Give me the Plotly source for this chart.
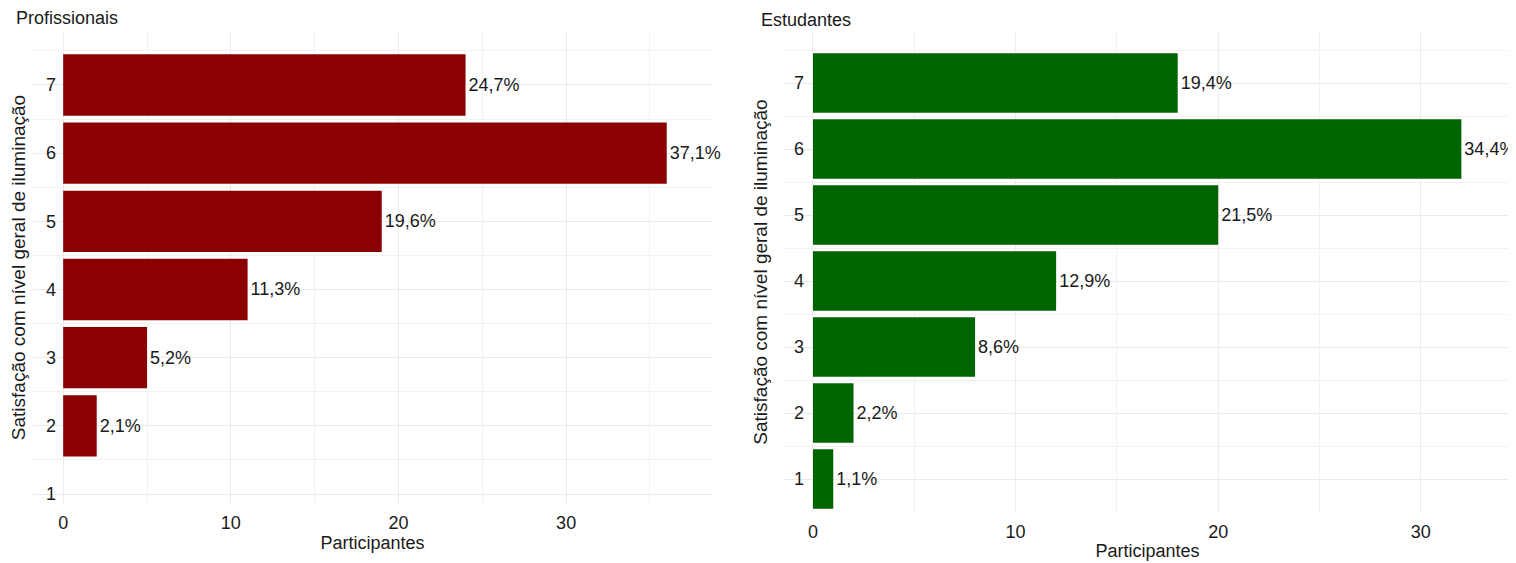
import plotly.graph_objects as go

# ---- data ----
levels = [1, 2, 3, 4, 5, 6, 7]
prof_counts = [0, 2, 5, 11, 19, 36, 24]
prof_labels = ["", "2,1%", "5,2%", "11,3%", "19,6%", "37,1%", "24,7%"]
est_counts = [1, 2, 8, 12, 20, 32, 18]
est_labels = ["1,1%", "2,2%", "8,6%", "12,9%", "21,5%", "34,4%", "19,4%"]
x_ticks = [0, 10, 20, 30]

# page body has an 8px margin; size figure to fill the rest of the window
OFF = 8
W, H = 1516 - OFF, 563 - OFF
def fx(px):
    return (px - OFF) / W
def fy(py):
    return 1 - (py - OFF) / H

FONT = "Liberation Sans, Arial, sans-serif"
GRID = "#EBEBEB"
TXT = "#1a1a1a"
FS = 18

fig = go.Figure()
fig.add_trace(go.Bar(
    x=prof_counts, y=levels, orientation="h", width=0.9,
    marker=dict(color="#8B0000", line=dict(width=0)),
    text=prof_labels, textposition="outside", cliponaxis=False,
    textfont=dict(size=FS, color=TXT, family=FONT),
    xaxis="x", yaxis="y", showlegend=False, hoverinfo="x+y"))
fig.add_trace(go.Bar(
    x=est_counts, y=levels, orientation="h", width=0.9,
    marker=dict(color="#006400", line=dict(width=0)),
    text=est_labels, textposition="outside", cliponaxis=False,
    textfont=dict(size=FS, color=TXT, family=FONT),
    xaxis="x2", yaxis="y2", showlegend=False, hoverinfo="x+y"))

def xax(domain, rng, anchor, standoff):
    return dict(domain=domain, range=rng, anchor=anchor, automargin=False,
                tickvals=x_ticks, showgrid=True, gridcolor=GRID, gridwidth=1,
                minor=dict(dtick=5, tick0=0, showgrid=True, gridcolor="#F2F2F2", gridwidth=1),
                zeroline=False, showline=False, ticks="", ticklabelstandoff=7,
                tickfont=dict(size=FS, color=TXT, family=FONT),
                title=dict(text="Participantes", font=dict(size=FS, color=TXT, family=FONT),
                           standoff=standoff))

def yax(domain, rng, anchor, standoff_lbl, standoff_title):
    return dict(domain=domain, range=rng, anchor=anchor, automargin=False,
                tickvals=levels, showgrid=True, gridcolor=GRID, gridwidth=1,
                minor=dict(dtick=1, tick0=0.5, showgrid=True, gridcolor="#F2F2F2", gridwidth=1),
                zeroline=False, showline=False, ticks="",
                ticklabelposition="inside", ticklabelstandoff=standoff_lbl,
                ticklabeloverflow="allow",
                tickfont=dict(size=FS, color=TXT, family=FONT),
                title=dict(text="Satisfação com nível geral de iluminação",
                           font=dict(size=19, color=TXT, family=FONT),
                           standoff=standoff_title))

fig.update_layout(
    width=W, height=H, margin=dict(l=0, r=0, t=0, b=0),
    paper_bgcolor="white", plot_bgcolor="white",
    font=dict(family=FONT),
    xaxis=xax([fx(33), fx(712)], [-1.8, 38.7], "y", 0),
    yaxis=yax([fy(503), fy(32)], [0.868, 7.777], "x", 10, 17),
    xaxis2=xax([fx(783), fx(1512)], [-1.48, 34.5], "y2", 3),
    yaxis2=yax([fy(512), fy(32)], [0.5, 7.773], "x2", 8, 21),
    annotations=[
        dict(text="Profissionais", x=fx(14), y=fy(18), xref="paper", yref="paper",
             xanchor="left", yanchor="middle", showarrow=False,
             font=dict(size=FS, color=TXT, family=FONT)),
        dict(text="Estudantes", x=fx(759), y=1, xref="paper", yref="paper",
             xanchor="left", yanchor="top", showarrow=False,
             font=dict(size=FS, color=TXT, family=FONT)),
    ],
)

fig.write_html("out.html")
